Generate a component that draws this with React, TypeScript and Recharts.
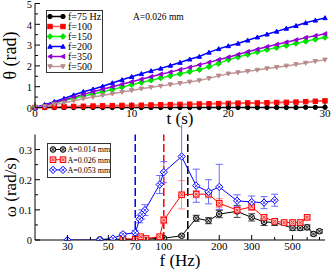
import React from 'react';
import { ComposedChart, Line, XAxis, YAxis, ErrorBar, ReferenceLine, Legend } from 'recharts';

const serif = '"Liberation Serif", "Times New Roman", serif';

// ---- top panel: theta vs t, A=0.026 mm ----
const tValues = [0, 1, 2, 3, 4, 5, 6, 7, 8, 9, 10, 11, 12, 13, 14, 15, 16, 17, 18, 19, 20, 21, 22, 23, 24, 25, 26, 27, 28, 29, 30];
const theta75 = [0, 0, 0, 0, 0, 0, 0, 0, 0, 0, 0, 0, 0, 0, 0, 0, 0, 0, 0, 0, 0, 0, 0, 0, 0, 0, 0, 0, 0.01, 0.01, 0.01];
const theta100 = [0, 0.02, 0.03, 0.04, 0.05, 0.06, 0.07, 0.08, 0.09, 0.1, 0.1, 0.11, 0.12, 0.13, 0.14, 0.15, 0.16, 0.17, 0.18, 0.19, 0.2, 0.21, 0.22, 0.22, 0.23, 0.24, 0.25, 0.26, 0.28, 0.3, 0.32];
const theta150 = [0, 0.1, 0.22, 0.33, 0.44, 0.55, 0.65, 0.76, 0.87, 0.98, 1.09, 1.2, 1.31, 1.42, 1.52, 1.62, 1.72, 1.82, 1.96, 2.12, 2.3, 2.43, 2.55, 2.67, 2.78, 2.88, 2.98, 3.08, 3.18, 3.28, 3.37];
const theta200 = [0, 0.13, 0.28, 0.43, 0.6, 0.76, 0.88, 1.02, 1.18, 1.33, 1.48, 1.62, 1.76, 1.88, 2.02, 2.16, 2.32, 2.45, 2.65, 2.82, 2.96, 3.08, 3.23, 3.38, 3.52, 3.66, 3.8, 3.93, 4.07, 4.19, 4.31];
const theta350 = [0, 0.1, 0.24, 0.36, 0.5, 0.63, 0.76, 0.88, 1.0, 1.12, 1.24, 1.36, 1.48, 1.6, 1.7, 1.82, 1.93, 2.05, 2.17, 2.3, 2.42, 2.55, 2.68, 2.8, 2.92, 3.03, 3.14, 3.25, 3.36, 3.45, 3.54];
const theta500 = [0, 0.05, 0.14, 0.22, 0.32, 0.42, 0.5, 0.58, 0.66, 0.74, 0.82, 0.9, 0.97, 1.03, 1.1, 1.16, 1.23, 1.3, 1.4, 1.52, 1.62, 1.68, 1.74, 1.8, 1.87, 1.93, 2.0, 2.07, 2.14, 2.22, 2.29];

const tTicks = [0, 5, 10, 15, 20, 25, 30];
const tMajor = [0, 10, 20, 30];
const thetaTicks = [0, 0.5, 1, 1.5, 2, 2.5, 3, 3.5, 4, 4.5, 5];
const thetaMajor = [0, 1, 2, 3, 4, 5];

// ---- bottom panel: omega vs f ----
const blackF = [45, 53, 60, 70, 80, 100, 125, 150, 175, 200, 250, 300, 350, 400, 500, 550, 600, 650, 700];
const blackW = [0.002, 0.003, 0.002, 0.003, 0.003, 0.006, 0.014, 0.072, 0.064, 0.086, 0.095, 0.075, 0.06, 0.058, 0.04, 0.04, 0.042, 0.02, 0.029];
const blackErr = [0.002, 0.002, 0.002, 0.002, 0.002, 0.003, 0.004, 0.01, 0.01, 0.012, 0.02, 0.012, 0.012, 0.01, 0.008, 0.008, 0.008, 0.006, 0.006];

const redF = [60, 70, 75, 80, 95, 100, 125, 150, 175, 200, 250, 300, 350, 400, 450, 500, 550, 600];
const redW = [0.004, 0.002, 0.011, 0.005, 0.011, 0.066, 0.15, 0.152, 0.152, 0.122, 0.099, 0.11, 0.075, 0.062, 0.058, 0.058, 0.058, 0.075];
const redErr = [0.003, 0.003, 0.005, 0.003, 0.005, 0.012, 0.047, 0.012, 0.012, 0.015, 0.01, 0.012, 0.008, 0.006, 0.005, 0.005, 0.005, 0.005];

const blueF = [30, 45, 53, 60, 70, 74, 76, 79, 95, 100, 125, 150, 175, 200, 250, 300, 350, 400];
const blueW = [0, 0, 0.005, 0.019, 0.024, 0.069, 0.085, 0.099, 0.184, 0.225, 0.277, 0.18, 0.16, 0.176, 0.13, 0.126, 0.124, 0.132];
const blueErr = [0.002, 0.002, 0.003, 0.005, 0.008, 0.012, 0.015, 0.018, 0.03, 0.035, 0.13, 0.055, 0.04, 0.075, 0.02, 0.02, 0.02, 0.02];

const onsetF = [70, 100, 135]; // dashed lines: blue, red, black

const fTicks = [30, 40, 50, 60, 70, 80, 90, 100, 200, 300, 400, 500, 600, 700];
const fMajor = [30, 50, 70, 100, 200, 300, 500];
const wTicks = [0, 0.05, 0.1, 0.15, 0.2, 0.25, 0.3];
const wMajor = [0, 0.1, 0.2, 0.3];

const topSeries = [
  { key: 'f75', name: 'f=75 Hz', color: '#000000', line: '#000000', shape: 'circle', values: theta75 },
  { key: 'f100', name: 'f=100', color: '#ff0000', line: '#ff5a5a', shape: 'square', values: theta100 },
  { key: 'f150', name: 'f=150', color: '#00e000', line: '#00ff00', shape: 'diamond', values: theta150 },
  { key: 'f200', name: 'f=200', color: '#0000ff', line: '#0000ff', shape: 'triUp', values: theta200 },
  { key: 'f350', name: 'f=350', color: '#9400d3', line: '#9400d3', shape: 'triLeft', values: theta350 },
  { key: 'f500', name: 'f=500', color: '#b88a8a', line: '#c09898', shape: 'triDown', values: theta500 },
];

const topRows = tValues.map((t, i) => {
  const row: any = { t };
  topSeries.forEach((s) => { row[s.key] = s.values[i]; });
  return row;
});

const toRows = (fs: number[], ws: number[], es: number[]) => fs.map((f, i) => ({ f, w: ws[i], e: es[i] }));

const bottomSeries = [
  { key: 'a014', name: 'A=0.014 mm', color: '#000000', err: '#444444', fill: '#c8c8c8', shape: 'circle', rows: toRows(blackF, blackW, blackErr) },
  { key: 'a026', name: 'A=0.026 mm', color: '#ff0000', err: '#ff8c8c', fill: '#ffc8c8', shape: 'square', rows: toRows(redF, redW, redErr) },
  { key: 'a053', name: 'A=0.053 mm', color: '#0000ff', err: '#6a6aff', fill: '#ffffff', shape: 'diamond', rows: toRows(blueF, blueW, blueErr) },
];
const onsetColors = ['#0000ff', '#ff0000', '#000000'];

const Marker = ({ shape, cx, cy, r, stroke, fill, hatch }: any) => {
  if (cx == null || cy == null) return null;
  let el: any;
  if (shape === 'circle') el = <circle cx={cx} cy={cy} r={r} />;
  else if (shape === 'square') el = <rect x={cx - r} y={cy - r} width={2 * r} height={2 * r} />;
  else if (shape === 'diamond') {
    const d = r * 1.3;
    el = <polygon points={`${cx},${cy - d} ${cx + d},${cy} ${cx},${cy + d} ${cx - d},${cy}`} />;
  } else if (shape === 'triUp') el = <polygon points={`${cx},${cy - r} ${cx + r},${cy + r * 0.8} ${cx - r},${cy + r * 0.8}`} />;
  else if (shape === 'triDown') el = <polygon points={`${cx},${cy + r} ${cx + r},${cy - r * 0.8} ${cx - r},${cy - r * 0.8}`} />;
  else el = <polygon points={`${cx - r},${cy} ${cx + r * 0.8},${cy - r} ${cx + r * 0.8},${cy + r}`} />;
  const h = r * 0.55;
  return (
    <g stroke={stroke} fill={fill} strokeWidth={1}>
      {el}
      {hatch && <path d={`M${cx - h},${cy - h}L${cx + h},${cy + h}M${cx - h},${cy + h}L${cx + h},${cy - h}`} fill="none" strokeWidth={0.8} />}
    </g>
  );
};

const AxisTick = (props: any) => {
  const { x, y, payload, side, majors, labels, fmt } = props;
  const v = payload.value;
  const major = majors.includes(v);
  const len = major ? 5 : 3;
  if (side === 'bottom') {
    return (
      <g>
        <line x1={x} y1={y} x2={x} y2={y - len} stroke="#000" />
        {labels && major && (
          <text x={x} y={y + 2} dy="0.71em" textAnchor="middle" fontSize={11} fontFamily={serif} fill="#000">{fmt(v)}</text>
        )}
      </g>
    );
  }
  if (side === 'top') return <line x1={x} y1={y} x2={x} y2={y + len} stroke="#000" />;
  if (side === 'right') return <line x1={x} y1={y} x2={x - len} y2={y} stroke="#000" />;
  return (
    <g>
      <line x1={x} y1={y} x2={x + len} y2={y} stroke="#000" />
      {labels && major && (
        <text x={x - 3} y={y} dy="0.4em" textAnchor="end" fontSize={10.5} fontFamily={serif} fill="#000">{fmt(v)}</text>
      )}
    </g>
  );
};

const TopLegend = () => (
  <div style={{ width: 57, height: 63, border: '1px solid #333', background: '#fff', boxSizing: 'border-box' }}>
    <svg width={55} height={61} style={{ display: 'block' }}>
      {topSeries.map((s, i) => {
        const y = 5.5 + i * 10;
        return (
          <g key={s.key}>
            <line x1={3} x2={16} y1={y} y2={y} stroke={s.line} strokeWidth={1.5} />
            <Marker shape={s.shape} cx={3} cy={y} r={2.2} stroke={s.color} fill={s.color} />
            <Marker shape={s.shape} cx={16} cy={y} r={2.2} stroke={s.color} fill={s.color} />
            <text x={21} y={y} dy="0.35em" fontSize={10} fontFamily={serif} fill="#000">{s.name}</text>
          </g>
        );
      })}
    </svg>
  </div>
);

const BottomLegend = () => (
  <div style={{ width: 64, height: 35, border: '1px solid #333', background: '#fff', boxSizing: 'border-box' }}>
    <svg width={62} height={33} style={{ display: 'block' }}>
      {bottomSeries.map((s, i) => {
        const y = 5.5 + i * 10.2;
        return (
          <g key={s.key}>
            <line x1={5} x2={15} y1={y} y2={y} stroke={s.color} strokeWidth={1} />
            <Marker shape={s.shape} cx={5} cy={y} r={2.8} stroke={s.color} fill={s.fill} hatch />
            <Marker shape={s.shape} cx={15} cy={y} r={2.8} stroke={s.color} fill={s.fill} hatch />
            <text x={19.5} y={y} dy="0.35em" fontSize={8} fontFamily={serif} fill="#000">{s.name}</text>
          </g>
        );
      })}
    </svg>
  </div>
);

const fmtNum = (v: number) => String(v);

export default function App() {
  return (
    <div style={{ position: 'absolute', left: 0, top: 0, width: 332, height: 269, background: '#fff', fontFamily: serif }}>
      <div style={{ position: 'absolute', left: 0, top: 0 }}>
        <ComposedChart width={332} height={131} data={topRows} margin={{ top: 3.5, right: 7, bottom: 0, left: 0 }}>
          <XAxis
            xAxisId="b" dataKey="t" type="number" domain={[0, 30]} ticks={tTicks} interval={0}
            tickSize={0} tickMargin={0} height={23.5} axisLine={{ stroke: '#000' }}
            tick={(p: any) => <AxisTick {...p} side="bottom" majors={tMajor} labels fmt={fmtNum} />}
            label={{ value: 't (s)', position: 'insideBottom', offset: 7, fontSize: 17, fontFamily: serif, fill: '#000' }}
          />
          <XAxis
            xAxisId="t" orientation="top" type="number" domain={[0, 30]} ticks={tTicks} interval={0}
            tickSize={0} tickMargin={0} height={0} axisLine={{ stroke: '#000' }}
            tick={(p: any) => <AxisTick {...p} side="top" majors={tMajor} />}
          />
          <YAxis
            yAxisId="l" type="number" domain={[0, 5]} ticks={thetaTicks} interval={0}
            tickSize={0} tickMargin={0} width={35} axisLine={{ stroke: '#000' }}
            tick={(p: any) => <AxisTick {...p} side="left" majors={thetaMajor} labels fmt={fmtNum} />}
            label={{ value: 'θ (rad)', angle: -90, position: 'insideLeft', offset: 10, fontSize: 18, fontFamily: serif, fill: '#000', style: { textAnchor: 'middle' } }}
          />
          <YAxis
            yAxisId="r" orientation="right" type="number" domain={[0, 5]} ticks={thetaTicks} interval={0}
            tickSize={0} tickMargin={0} width={0} axisLine={{ stroke: '#000' }}
            tick={(p: any) => <AxisTick {...p} side="right" majors={thetaMajor} />}
          />
          {topSeries.map((s) => (
            <Line
              key={s.key} xAxisId="b" yAxisId="l" type="linear" dataKey={s.key} stroke={s.line}
              strokeWidth={s.key === 'f100' ? 2 : 1.5} isAnimationActive={false}
              dot={(p: any) => <Marker key={`${s.key}-${p.index}`} shape={s.shape} cx={p.cx} cy={p.cy} r={2.2} stroke={s.color} fill={s.color} />}
            />
          ))}
          <Legend layout="vertical" verticalAlign="middle" align="center" content={() => <TopLegend />} wrapperStyle={{ left: 46, top: 10, width: 57, height: 63 }} />
        </ComposedChart>
        <div style={{ position: 'absolute', left: 133, top: 12, fontSize: 9.5, fontFamily: serif, whiteSpace: 'nowrap', color: '#000' }}>A=0.026 mm</div>
      </div>

      <div style={{ position: 'absolute', left: 0, top: 125 }}>
        <ComposedChart width={332} height={144} margin={{ top: 9.5, right: 7, bottom: 0, left: 0 }}>
          <XAxis
            xAxisId="b" dataKey="f" type="number" scale="log" domain={[20, 750]} allowDataOverflow ticks={fTicks} interval={0}
            tickSize={0} tickMargin={0} height={29} axisLine={{ stroke: '#000' }}
            tick={(p: any) => <AxisTick {...p} side="bottom" majors={fMajor} labels fmt={fmtNum} />}
            label={{ value: 'f (Hz)', position: 'insideBottom', offset: 3, fontSize: 17, fontFamily: serif, fill: '#000' }}
          />
          <XAxis
            xAxisId="t" orientation="top" type="number" scale="log" domain={[20, 750]} allowDataOverflow ticks={fTicks} interval={0}
            tickSize={0} tickMargin={0} height={0} axisLine={{ stroke: '#000' }}
            tick={(p: any) => <AxisTick {...p} side="top" majors={fMajor} />}
          />
          <YAxis
            yAxisId="l" type="number" domain={[0, 0.35]} allowDataOverflow ticks={wTicks} interval={0}
            tickSize={0} tickMargin={0} width={35} axisLine={{ stroke: '#000' }}
            tick={(p: any) => <AxisTick {...p} side="left" majors={wMajor} labels fmt={fmtNum} />}
            label={{ value: 'ω (rad/s)', angle: -90, position: 'insideLeft', offset: 10, fontSize: 17, fontFamily: serif, fill: '#000', style: { textAnchor: 'middle' } }}
          />
          <YAxis
            yAxisId="r" orientation="right" type="number" domain={[0, 0.35]} allowDataOverflow ticks={wTicks} interval={0}
            tickSize={0} tickMargin={0} width={0} axisLine={{ stroke: '#000' }}
            tick={(p: any) => <AxisTick {...p} side="right" majors={wMajor} />}
          />
          {onsetF.map((f, i) => (
            <ReferenceLine key={f} xAxisId="b" yAxisId="l" x={f} stroke={onsetColors[i]} strokeWidth={1.5} strokeDasharray="8 3" />
          ))}
          {bottomSeries.map((s) => (
            <Line
              key={s.key} xAxisId="b" yAxisId="l" data={s.rows} type="linear" dataKey="w" stroke={s.color}
              strokeWidth={1} isAnimationActive={false}
              dot={(p: any) => <Marker key={`${s.key}-${p.index}`} shape={s.shape} cx={p.cx} cy={p.cy} r={2.8} stroke={s.color} fill={s.fill} hatch />}
            >
              <ErrorBar dataKey="e" direction="y" width={3.5} stroke={s.err} strokeWidth={1} isAnimationActive={false} />
            </Line>
          ))}
          <Legend layout="vertical" verticalAlign="middle" align="center" content={() => <BottomLegend />} wrapperStyle={{ left: 47, top: 18, width: 64, height: 35 }} />
        </ComposedChart>
      </div>
    </div>
  );
}
